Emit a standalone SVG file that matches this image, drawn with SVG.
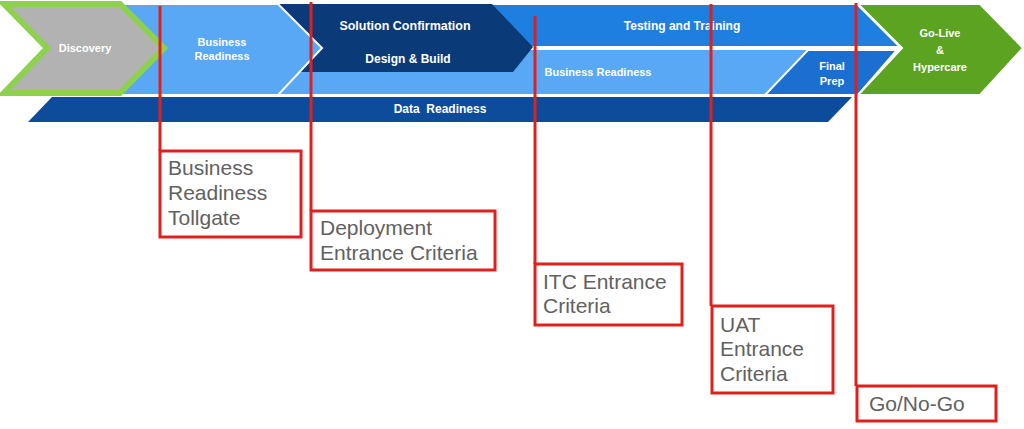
<svg xmlns="http://www.w3.org/2000/svg" width="1024" height="429" viewBox="0 0 1024 429">
<style>
.lbl{font-family:"Liberation Sans",Arial,sans-serif;font-weight:bold;fill:#ffffff;text-anchor:middle}
.box{fill:#ffffff;stroke:#E0201F;stroke-width:3}
.red{stroke:#E0201F;stroke-width:3;fill:none}
.bt{font-family:"Liberation Sans",Arial,sans-serif;font-size:21px;fill:#616161}
</style>
<rect width="1024" height="429" fill="#ffffff"/>
<g id="phases">
  <g id="br-lower">
    <polygon points="280,49 899,49 858,95 280,95" fill="#58A8F6" stroke="#ffffff" stroke-width="2"/>
    <text class="lbl" x="598" y="76" font-size="11">Business Readiness</text>
  </g>
  <g id="testing">
    <polygon points="470,4 857,4 900,47 470,47" fill="#1F7FE0" stroke="#ffffff" stroke-width="2"/>
    <text class="lbl" x="682" y="30" font-size="12">Testing and Training</text>
  </g>
  <g id="solution">
    <polygon points="278,4 492,4 533,47 513,72 300,72 280,50" fill="#0B3A78"/>
    <text class="lbl" x="405" y="30" font-size="12.5">Solution Confirmation</text>
    <text class="lbl" x="408" y="63" font-size="12">Design &amp; Build</text>
  </g>
  <g id="finalprep">
    <polygon points="808,50 897,50 858,95 765,95" fill="#1B6FD1" stroke="#ffffff" stroke-width="2"/>
    <text class="lbl" x="832" y="70" font-size="11">Final</text>
    <text class="lbl" x="832" y="85" font-size="11">Prep</text>
  </g>
  <g id="business-readiness">
    <polygon points="110,4 278,4 322,48 278,95 110,95 150,48" fill="#58A8F6" stroke="#ffffff" stroke-width="2"/>
    <text class="lbl" x="222" y="46" font-size="11">Business</text>
    <text class="lbl" x="222" y="60" font-size="11">Readiness</text>
  </g>
  <g id="discovery">
    <polygon points="4,4 120,4 164,48 120,93 4,93 47,48" fill="#B2B2B2" stroke="#8DD14F" stroke-width="6"/>
    <text class="lbl" x="85" y="52" font-size="11">Discovery</text>
  </g>
  <g id="golive">
    <polygon points="858,4 980,4 1023,48 980,95 858,95 902,48" fill="#5BA321" stroke="#ffffff" stroke-width="2"/>
    <text class="lbl" x="940" y="37" font-size="11">Go-Live</text>
    <text class="lbl" x="940" y="54" font-size="11">&amp;</text>
    <text class="lbl" x="940" y="71" font-size="11">Hypercare</text>
  </g>
  <g id="data">
    <polygon points="52,97 852,97 828,122 28,122" fill="#0D4C9B"/>
    <text class="lbl" x="440" y="113" font-size="12" xml:space="preserve">Data  Readiness</text>
  </g>
</g>
<g id="connectors">
  <line class="red" x1="160" y1="6" x2="160" y2="151"/>
  <line class="red" x1="311" y1="2" x2="311" y2="211"/>
  <line class="red" x1="535" y1="16" x2="535" y2="264"/>
  <line class="red" x1="711" y1="4" x2="711" y2="306"/>
  <line class="red" x1="856" y1="3" x2="856" y2="386"/>
</g>
<g id="tollgate">
  <rect class="box" x="160" y="151" width="141" height="86"/>
  <text class="bt" x="168" y="175">Business</text>
  <text class="bt" x="168" y="200">Readiness</text>
  <text class="bt" x="168" y="225">Tollgate</text>
</g>
<g id="deployment">
  <rect class="box" x="311" y="211" width="184" height="59"/>
  <text class="bt" x="320" y="235">Deployment</text>
  <text class="bt" x="320" y="260">Entrance Criteria</text>
</g>
<g id="itc">
  <rect class="box" x="535" y="264" width="147" height="61"/>
  <text class="bt" x="543" y="289">ITC Entrance</text>
  <text class="bt" x="543" y="313">Criteria</text>
</g>
<g id="uat">
  <rect class="box" x="712" y="306" width="121" height="87"/>
  <text class="bt" x="720" y="332">UAT</text>
  <text class="bt" x="720" y="356">Entrance</text>
  <text class="bt" x="720" y="381">Criteria</text>
</g>
<g id="gonogo">
  <rect class="box" x="857" y="386" width="139" height="35"/>
  <text class="bt" x="869" y="411">Go/No-Go</text>
</g>
</svg>
